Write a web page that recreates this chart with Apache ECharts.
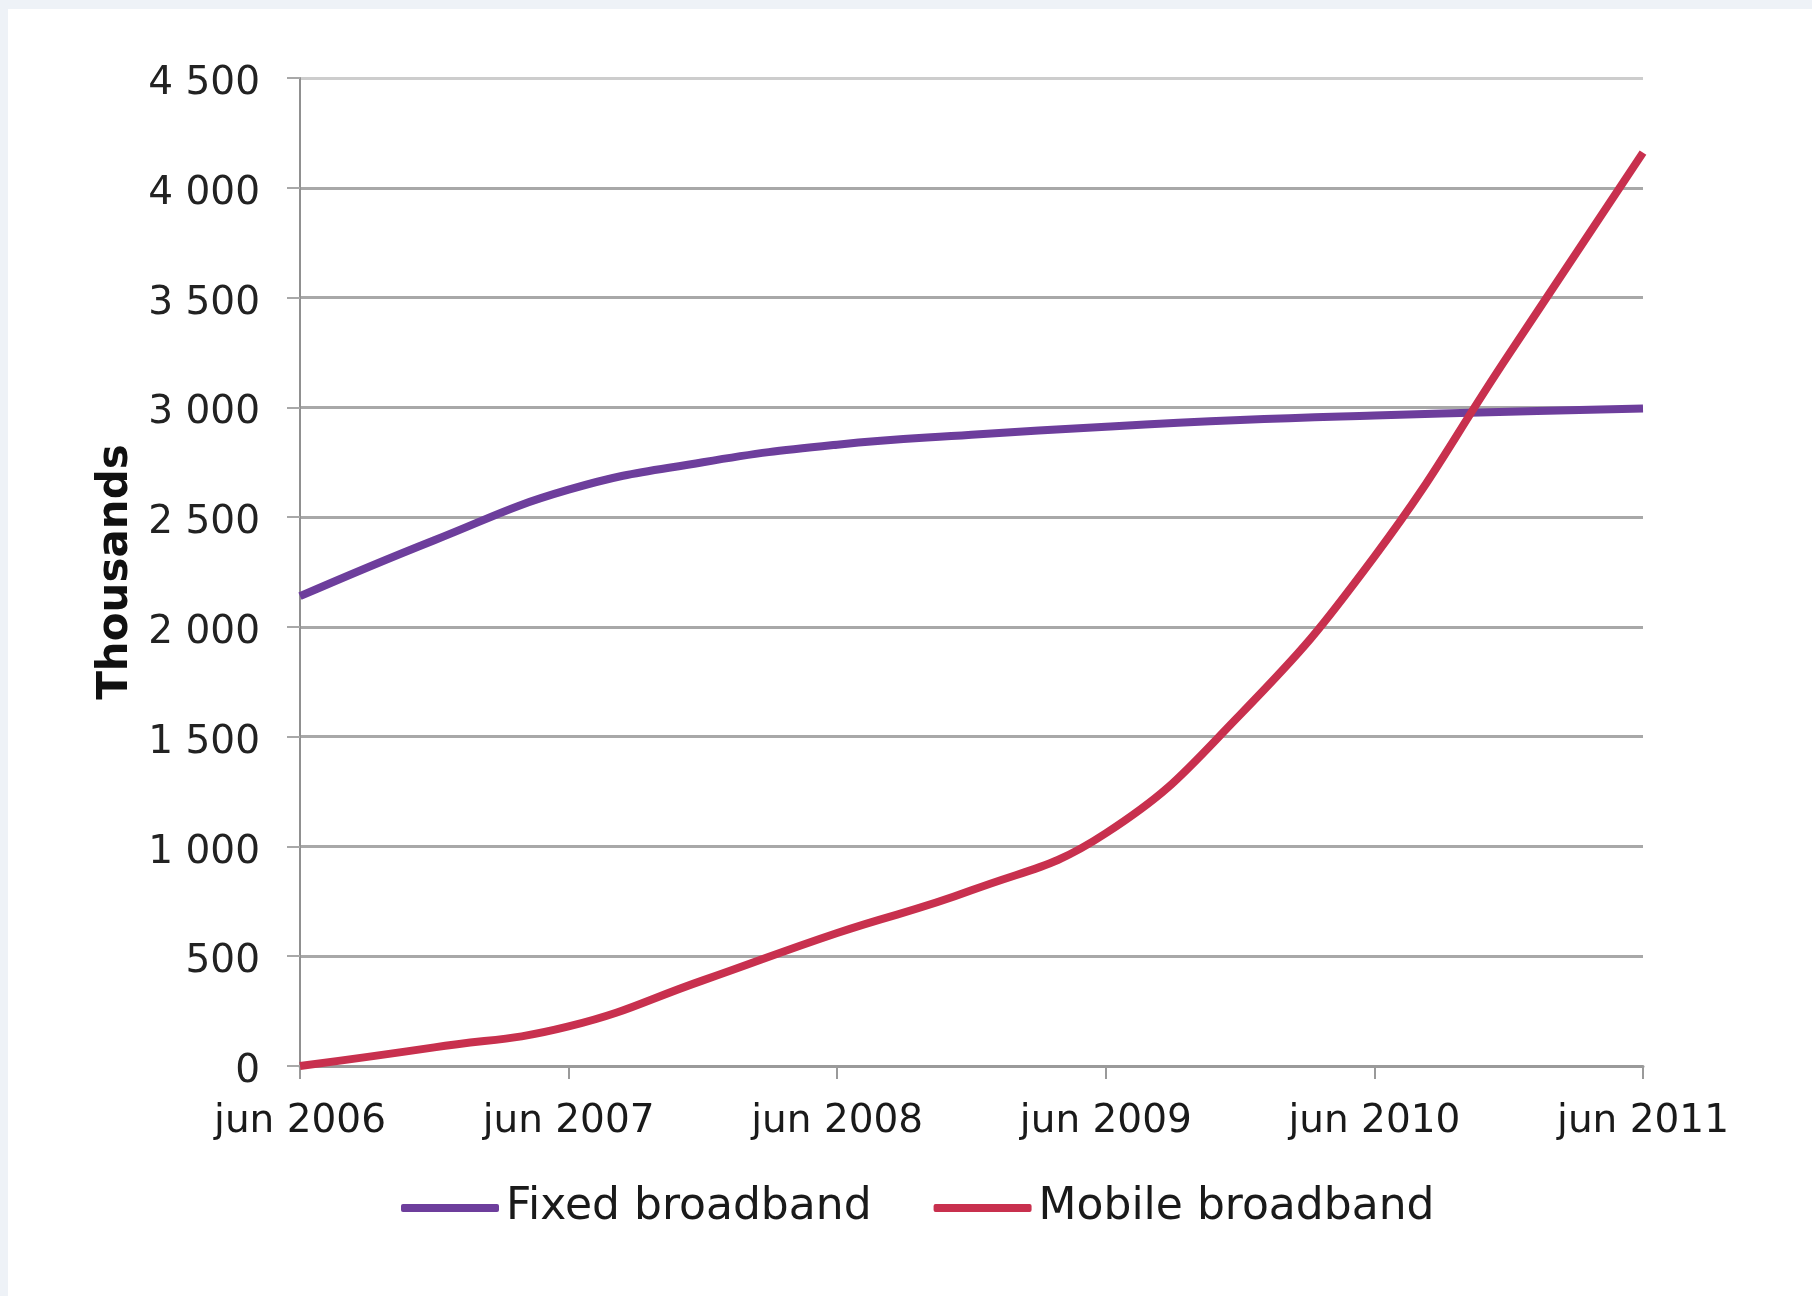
<!DOCTYPE html>
<html>
<head>
<meta charset="utf-8">
<script src="https://cdn.jsdelivr.net/npm/echarts@6/dist/echarts.min.js"></script>
<style>
  html, body { margin: 0; padding: 0; background: #eef2f7; }
  #chart { width: 1812px; height: 1296px; }
</style>
</head>
<body>
<div id="chart"></div>
<script>
// Semi-annual observations (thousands)
const categories = ['jun 2006','dec 2006','jun 2007','dec 2007','jun 2008','dec 2008','jun 2009','dec 2009','jun 2010','dec 2010','jun 2011'];
const fixedBroadband  = [2140, 2395, 2625, 2750, 2830, 2875, 2912, 2942, 2963, 2980, 2995];
const mobileBroadband = [0, 85, 180, 390, 606, 800, 1060, 1600, 2320, 3240, 4160];
const yTicks = [0, 500, 1000, 1500, 2000, 2500, 3000, 3500, 4000, 4500];
const seriesNames = ['Fixed broadband', 'Mobile broadband'];

const FONT = '"DejaVu Sans", Verdana, sans-serif';
const chart = echarts.init(document.getElementById('chart'), null, { renderer: 'canvas' });

function fmt(v) {
  if (v >= 1000) return Math.floor(v / 1000) + ' ' + String(v % 1000).padStart(3, '0');
  return String(v);
}

const gridColors = yTicks.map((t, i) => i === yTicks.length - 1 ? '#cdcdcd' : '#a8a8a8');

chart.setOption({
  backgroundColor: '#eef2f7',
  animation: false,
  graphic: [{
    type: 'rect', z: -10, silent: true,
    shape: { x: 8, y: 9, width: 1812, height: 1296 },
    style: { fill: '#ffffff' }
  }],
  grid: { left: 300, right: 169, top: 78, bottom: 230, containLabel: false },
  legend: {
    left: 401, top: 1186, padding: 0,
    itemWidth: 98, itemHeight: 8, itemGap: 62,
    icon: 'roundRect',
    textStyle: { fontFamily: FONT, fontSize: 44, color: '#1a1a1a', padding: [0, 0, 0, 2] },
    data: seriesNames
  },
  xAxis: {
    type: 'category',
    data: categories,
    boundaryGap: false,
    axisLine: { show: true, lineStyle: { color: '#9a9a9a', width: 3 } },
    axisTick: { show: true, interval: 1, length: 13, lineStyle: { color: '#9a9a9a', width: 2 } },
    axisLabel: { interval: 1, margin: 36, fontFamily: FONT, fontSize: 39, color: '#1a1a1a' },
    splitLine: { show: false }
  },
  yAxis: {
    type: 'value',
    min: 0, max: 4500, interval: 500,
    name: 'Thousands',
    nameLocation: 'middle',
    nameGap: 158,
    nameRotate: 90,
    nameTextStyle: { fontFamily: FONT, fontSize: 42, fontWeight: 'bold', color: '#111' },
    axisLine: { show: true, lineStyle: { color: '#909090', width: 2 } },
    axisTick: { show: true, inside: false, length: 13, lineStyle: { color: '#a8a8a8', width: 2 } },
    axisLabel: { margin: 40, fontFamily: FONT, fontSize: 39, color: '#222', formatter: fmt, verticalAlign: 'top', lineHeight: 12 },
    splitLine: { show: true, lineStyle: { color: gridColors, width: 3 } }
  },
  series: [
    {
      name: seriesNames[0], type: 'line', data: fixedBroadband,
      smooth: 0.45, showSymbol: false, symbol: 'none',
      lineStyle: { color: '#6d3e9c', width: 8 },
      itemStyle: { color: '#6d3e9c' }, z: 3
    },
    {
      name: seriesNames[1], type: 'line', data: mobileBroadband,
      smooth: 0.45, showSymbol: false, symbol: 'none',
      lineStyle: { color: '#c8304e', width: 8 },
      itemStyle: { color: '#c8304e' }, z: 4
    }
  ]
});
</script>
</body>
</html>
